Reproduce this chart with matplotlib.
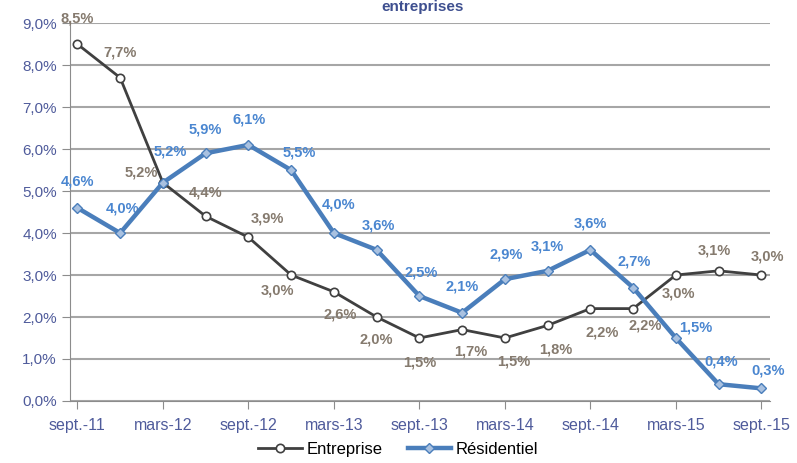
import matplotlib.pyplot as plt
from matplotlib.ticker import FuncFormatter

periodes = ['sept.-11', 'déc.-11', 'mars-12', 'juin-12', 'sept.-12', 'déc.-12',
            'mars-13', 'juin-13', 'sept.-13', 'déc.-13', 'mars-14', 'juin-14',
            'sept.-14', 'déc.-14', 'mars-15', 'juin-15', 'sept.-15']
entreprise = [8.5, 7.7, 5.2, 4.4, 3.9, 3.0, 2.6, 2.0, 1.5, 1.7, 1.5, 1.8, 2.2, 2.2, 3.0, 3.1, 3.0]
residentiel = [4.6, 4.0, 5.2, 5.9, 6.1, 5.5, 4.0, 3.6, 2.5, 2.1, 2.9, 3.1, 3.6, 2.7, 1.5, 0.4, 0.3]

# decalage des etiquettes (pixels)
off_ent = [(0, 26), (0, 25), (-22, 10), (0, 24), (19, 19), (-14, -15), (6, -23), (0, -22),
           (0, -25), (9, -22), (9, -24), (8, -24), (12, -24), (12, -17), (3, -18), (-4, 20), (6, 19)]
off_res = [(0, 26), (2, 25), (7, 31), (0, 24), (1, 25), (8, 18), (5, 29), (2, 24),
           (2, 24), (0, 26), (1, 25), (0, 24), (0, 26), (1, 26), (20, 10), (3, 23), (7, 18)]

plt.rcParams['font.family'] = ['Liberation Sans', 'DejaVu Sans']
fig = plt.figure(figsize=(7.97, 4.63), dpi=100)
ax = fig.add_axes([0.088, 0.134, 0.878, 0.816])

x = list(range(len(periodes)))
ax.plot(x, entreprise, color='#404040', lw=2, marker='o', ms=6,
        mfc='white', mec='#404040', mew=1.2, label='Entreprise', zorder=3)
ax.plot(x, residentiel, color='#4a7ebb', lw=3.2, marker='D', ms=5.5,
        mfc='#a9c1e0', mec='#4a7ebb', mew=1, label='Résidentiel', zorder=4)

for i in x:
    ax.annotate(f'{entreprise[i]:.1f}%'.replace('.', ','), (i, entreprise[i]),
                xytext=off_ent[i], textcoords='offset pixels', ha='center', va='center',
                fontsize=10.5, color='#857a6e', fontweight='bold')
    ax.annotate(f'{residentiel[i]:.1f}%'.replace('.', ','), (i, residentiel[i]),
                xytext=off_res[i], textcoords='offset pixels', ha='center', va='center',
                fontsize=10.5, color='#4a86d0', fontweight='bold')

ax.set_ylim(0, 9)
ax.set_xlim(-0.17, 16.2)
ax.set_yticks(range(10))
ax.yaxis.set_major_formatter(FuncFormatter(lambda v, p: f'{v:.1f}%'.replace('.', ',')))
ax.set_xticks(x[::2])
ax.set_xticklabels(periodes[::2])
ax.grid(axis='y', color='#a6a6a6', lw=1.5)
ax.set_axisbelow(True)
for s in ['top', 'right']:
    ax.spines[s].set_visible(False)
ax.spines['left'].set_color('#8c8c8c')
ax.spines['bottom'].set_color('#8c8c8c')
ax.tick_params(colors='#8c8c8c', labelcolor='#4f5b9b', labelsize=11, length=6)
ax.tick_params(axis='x', pad=6, labelsize=11.5)

fig.text(0.53, 0.985, 'entreprises', ha='center', va='center', fontsize=11,
         fontweight='bold', color='#3e4f8f')
fig.legend(loc='lower center', bbox_to_anchor=(0.5, -0.02), ncol=2, frameon=False,
           fontsize=12, handlelength=2.6, columnspacing=1.5, handletextpad=0.3)

fig.savefig('out.png')
